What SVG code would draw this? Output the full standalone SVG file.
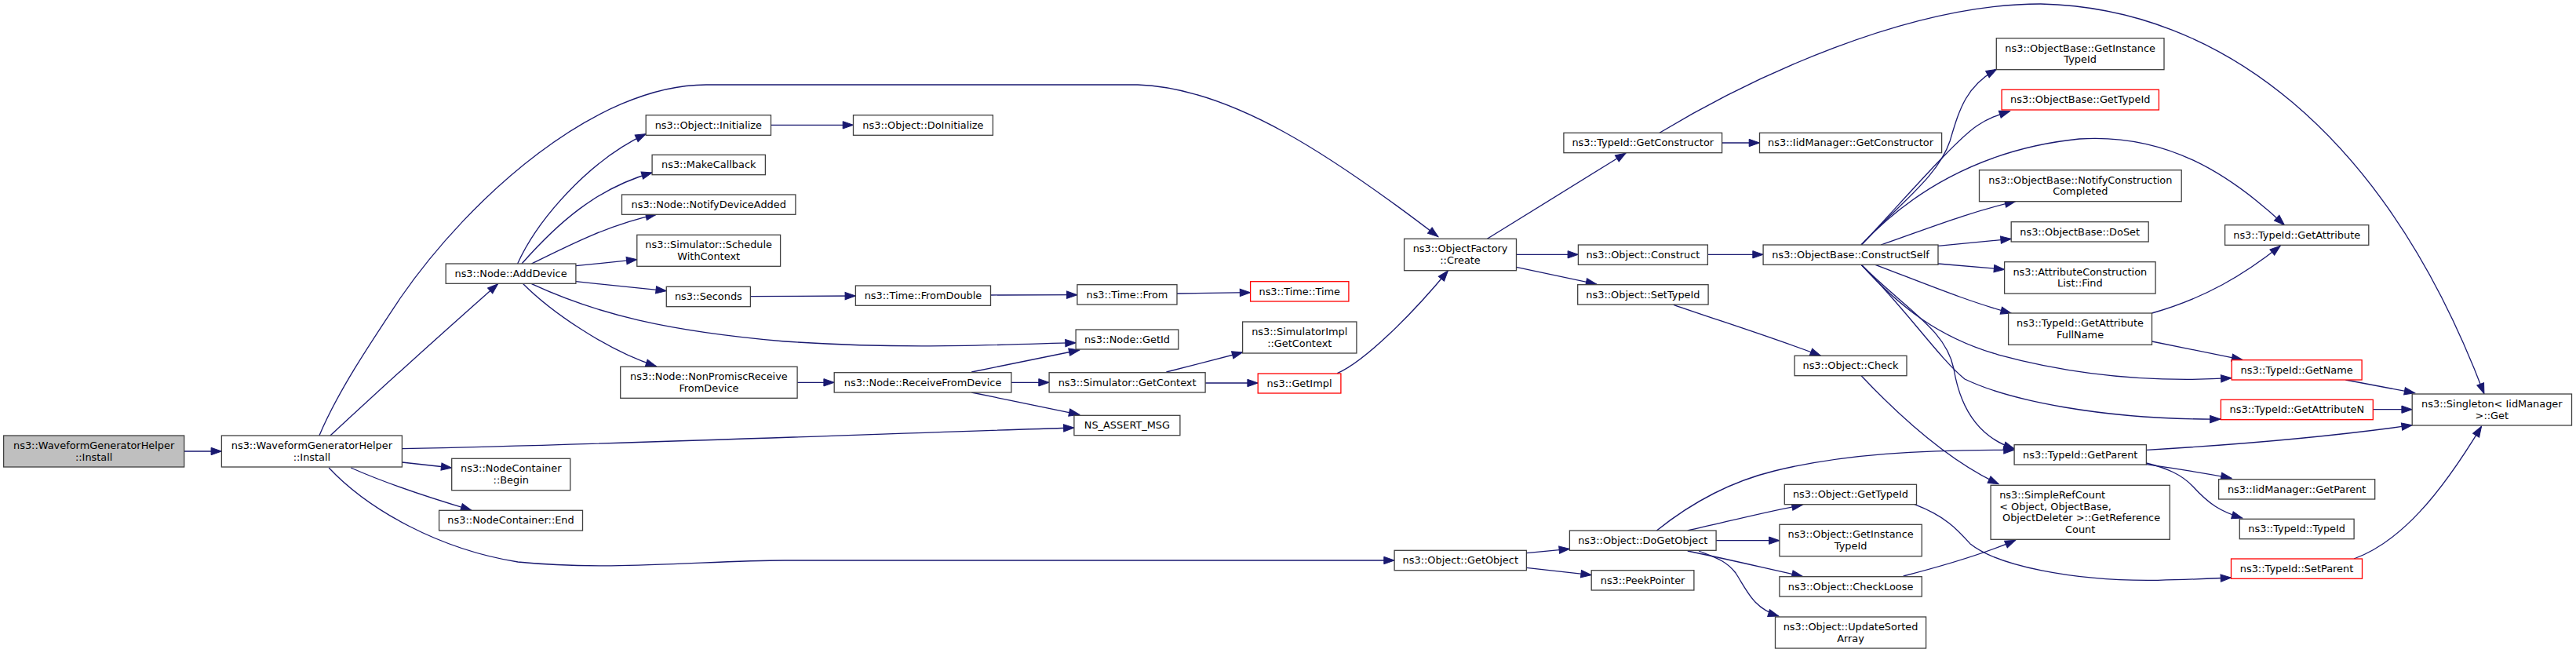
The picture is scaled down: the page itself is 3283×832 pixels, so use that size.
<svg xmlns="http://www.w3.org/2000/svg" width="3283" height="832" viewBox="0 0 3283 832">
<defs>
<style>
.node rect{fill:#ffffff;stroke:#404040;stroke-width:1.3}
.node.red rect{stroke:#ff0000}
.node.root rect{fill:#bfbfbf}
text{font-family:"DejaVu Sans","Liberation Sans",sans-serif;font-size:12.9px;fill:#000000;text-anchor:middle}
text.l{text-anchor:start}
#edges path{fill:none;stroke:#191970;stroke-width:1.3;marker-end:url(#arr)}
</style>
<marker id="arr" markerUnits="userSpaceOnUse" markerWidth="16" markerHeight="12" refX="13.3" refY="4.67" orient="auto" overflow="visible">
<path d="M0,0 L13.3,4.67 L0,9.33 Z" fill="#191970" stroke="#191970" stroke-width="1"/>
</marker>
</defs>
<rect x="0" y="0" width="3283" height="832" fill="#ffffff"/>
<g id="edges">
<path d="M234.7,575 L282.4,575"/>
<path d="M406.9,555 C430,500 470,440 510,380 C600,250 760,108 900,108 L1450,108 C1570,112 1700,200 1832.9,301.7"/>
<path d="M420.9,555 C480,500 580,410 634.6,361.7"/>
<path d="M512.4,571.7 C800,566 1100,553 1368.9,545"/>
<path d="M512.4,589 L575.7,596"/>
<path d="M447.2,596 C490,615 540,632 600.7,650"/>
<path d="M419.1,596 C470,650 560,700 660,716 C780,728 900,714 1000,714 L1777.1,714"/>
<path d="M659.6,336 C685,280 750,205 823.2,170.7"/>
<path d="M665,336 C710,285 760,240 831.1,220"/>
<path d="M677.5,336 C730,310 780,285 836.4,273.3"/>
<path d="M733.9,338.7 L811.8,330.7"/>
<path d="M733.9,358.7 L849.3,370.7"/>
<path d="M677.5,361.7 C760,400 850,422 1000,435 C1150,445 1250,440 1371.1,436.7"/>
<path d="M666.8,361.7 C700,395 770,445 836.4,466.7"/>
<path d="M1016.1,487.3 L1063.2,487.3"/>
<path d="M1238.2,474 L1375.7,446"/>
<path d="M1288.9,487.3 L1337.1,487.3"/>
<path d="M1238.2,500 L1375.7,528.3"/>
<path d="M1486.4,474 L1583.6,449"/>
<path d="M1536.1,488 L1603.2,488"/>
<path d="M1704.3,475.7 C1740,460 1800,400 1845.4,345"/>
<path d="M956.4,377.7 L1090.4,377"/>
<path d="M1262.5,376 L1372.9,375.7"/>
<path d="M1500,374 L1593.6,372.7"/>
<path d="M982.5,159.3 L1087.5,159.3"/>
<path d="M1895.4,304.3 L2072.1,195"/>
<path d="M1932.5,324.3 L2011.4,324.3"/>
<path d="M1932.5,340.3 L2034.6,362"/>
<path d="M2194.6,182 L2242.5,182"/>
<path d="M2115,169.3 C2230,100 2430,5 2600.7,5 C2830,10 3040,170 3165.9,501.7"/>
<path d="M2176.4,324.3 L2247.1,324.3"/>
<path d="M2132.9,388.3 C2180,405 2260,430 2320.4,453.3"/>
<path d="M2372.1,312 C2420,260 2470,225 2485,180 C2497,140 2505,110 2544.6,88.3"/>
<path d="M2372.1,312 C2420,262 2490,180 2520,160 C2535,150 2548,146 2561.4,141.7"/>
<path d="M2372.1,312 C2430,250 2520,190 2650,177 C2760,170 2840,220 2911.4,286.7"/>
<path d="M2397.1,312 C2460,290 2510,270 2568.6,256.7"/>
<path d="M2470,313.3 L2563.2,304.3"/>
<path d="M2470,336 L2554.6,343.3"/>
<path d="M2390,337.3 C2450,360 2510,385 2563.2,399"/>
<path d="M2372.1,337.3 C2420,390 2470,430 2547,452 C2650,480 2750,487 2843.9,481.7"/>
<path d="M2372.1,337.3 C2430,395 2470,455 2504,483 C2560,510 2680,535 2830,534"/>
<path d="M2372.1,337.3 C2430,395 2480,420 2490,470 C2500,530 2530,560 2567.1,571.7"/>
<path d="M2372.1,478.7 C2430,540 2490,590 2547.1,616.7"/>
<path d="M1945.4,704.7 L2000.4,699.3"/>
<path d="M1945.4,723.3 L2028.2,732.7"/>
<path d="M2111.4,676 C2150,645 2200,615 2261.4,600 C2350,578 2450,573 2567.1,573.3"/>
<path d="M2150.7,676 C2200,665 2250,652 2297.1,643.3"/>
<path d="M2187.1,688.7 L2267.9,688.7"/>
<path d="M2150.7,702 C2200,712 2250,724 2297.1,734.3"/>
<path d="M2165,702 C2185,710 2200,714 2212,730 C2228,755 2235,775 2266.8,785"/>
<path d="M2425.7,734 C2480,720 2530,705 2568.6,688.3"/>
<path d="M2440,642.7 C2480,658 2495,675 2511.4,693.3 C2545,720 2640,741 2750,739.3 C2790,738.5 2820,737 2843.5,736"/>
<path d="M2742.5,399 C2810,380 2860,350 2906.2,313.3"/>
<path d="M2742.5,435 L2857.7,458.3"/>
<path d="M2735.4,573.3 C2880,565 2980,555 3074.2,541.7"/>
<path d="M2735.4,591.7 C2780,598 2810,603 2843.9,609.3"/>
<path d="M2735.4,590 C2760,596 2780,604 2795,620 C2815,642 2830,652 2857.7,660"/>
<path d="M2989.3,484 L3077.6,500.7"/>
<path d="M3024.3,521.7 L3074.2,521.7"/>
<path d="M3000,712 C3060,690 3110,630 3162.5,543.3"/>
</g>
<g id="n_root" class="node root"><rect x="4.6" y="555" width="230.1" height="40"/><text x="119.65" y="571.9">ns3::WaveformGeneratorHelper</text><text x="119.65" y="586.5">::Install</text></g>
<g id="n_install" class="node"><rect x="282.4" y="555" width="230" height="40"/><text x="397.4" y="571.9">ns3::WaveformGeneratorHelper</text><text x="397.4" y="586.5">::Install</text></g>
<g id="n_adddevice" class="node"><rect x="568.2" y="336" width="165.7" height="25.3"/><text x="651.05" y="352.85">ns3::Node::AddDevice</text></g>
<g id="n_initialize" class="node"><rect x="823.2" y="146.7" width="159.3" height="25.6"/><text x="902.85" y="163.7">ns3::Object::Initialize</text></g>
<g id="n_makecallback" class="node"><rect x="831.1" y="197.3" width="144.3" height="25.4"/><text x="903.25" y="214.2">ns3::MakeCallback</text></g>
<g id="n_notify" class="node"><rect x="792.5" y="248" width="221.4" height="25.3"/><text x="903.2" y="264.85">ns3::Node::NotifyDeviceAdded</text></g>
<g id="n_schedule" class="node"><rect x="811.8" y="299.3" width="182.8" height="40"/><text x="903.2" y="316.2">ns3::Simulator::Schedule</text><text x="903.2" y="330.8">WithContext</text></g>
<g id="n_seconds" class="node"><rect x="849.3" y="365.3" width="107.1" height="25.4"/><text x="902.85" y="382.2">ns3::Seconds</text></g>
<g id="n_nonpromisc" class="node"><rect x="790.7" y="467.3" width="225.4" height="40"/><text x="903.4" y="484.2">ns3::Node::NonPromiscReceive</text><text x="903.4" y="498.8">FromDevice</text></g>
<g id="n_begin" class="node"><rect x="575.7" y="584.3" width="151.1" height="40.4"/><text x="651.25" y="601.4">ns3::NodeContainer</text><text x="651.25" y="616">::Begin</text></g>
<g id="n_end" class="node"><rect x="559.6" y="650.3" width="182.9" height="25.7"/><text x="651.05" y="667.35">ns3::NodeContainer::End</text></g>
<g id="n_doinit" class="node"><rect x="1087.5" y="146.7" width="177.9" height="25.6"/><text x="1176.45" y="163.7">ns3::Object::DoInitialize</text></g>
<g id="n_fromdouble" class="node"><rect x="1090.4" y="364" width="172.1" height="25.3"/><text x="1176.45" y="380.85">ns3::Time::FromDouble</text></g>
<g id="n_from" class="node"><rect x="1372.9" y="362.7" width="127.1" height="25.3"/><text x="1436.45" y="379.55">ns3::Time::From</text></g>
<g id="n_time" class="node red"><rect x="1593.6" y="358.7" width="125.3" height="25.3"/><text x="1656.25" y="375.55">ns3::Time::Time</text></g>
<g id="n_receive" class="node"><rect x="1063.2" y="474.7" width="225.7" height="25.3"/><text x="1176.05" y="491.55">ns3::Node::ReceiveFromDevice</text></g>
<g id="n_getid" class="node"><rect x="1371.1" y="420" width="130.7" height="25"/><text x="1436.45" y="436.7">ns3::Node::GetId</text></g>
<g id="n_getcontext" class="node"><rect x="1337.1" y="474.7" width="199" height="25.3"/><text x="1436.6" y="491.55">ns3::Simulator::GetContext</text></g>
<g id="n_assert" class="node"><rect x="1368.9" y="529.3" width="135" height="25.4"/><text x="1436.4" y="546.2">NS_ASSERT_MSG</text></g>
<g id="n_simimpl" class="node"><rect x="1583.6" y="410" width="145.3" height="40"/><text x="1656.25" y="426.9">ns3::SimulatorImpl</text><text x="1656.25" y="441.5">::GetContext</text></g>
<g id="n_getimpl" class="node red"><rect x="1603.2" y="476" width="105.7" height="25"/><text x="1656.05" y="492.7">ns3::GetImpl</text></g>
<g id="n_create" class="node"><rect x="1789.6" y="304.3" width="142.9" height="40.4"/><text x="1861.05" y="321.4">ns3::ObjectFactory</text><text x="1861.05" y="336">::Create</text></g>
<g id="n_getconstructor" class="node"><rect x="1992.9" y="169.3" width="201.7" height="25.4"/><text x="2093.75" y="186.2">ns3::TypeId::GetConstructor</text></g>
<g id="n_construct" class="node"><rect x="2011.4" y="312" width="165" height="25.3"/><text x="2093.9" y="328.85">ns3::Object::Construct</text></g>
<g id="n_settypeid" class="node"><rect x="2010.7" y="362.7" width="166.4" height="25.3"/><text x="2093.9" y="379.55">ns3::Object::SetTypeId</text></g>
<g id="n_getobject" class="node"><rect x="1777.1" y="701.3" width="168.3" height="25.4"/><text x="1861.25" y="718.2">ns3::Object::GetObject</text></g>
<g id="n_dogetobject" class="node"><rect x="2000.4" y="676" width="186.7" height="25.3"/><text x="2093.75" y="692.85">ns3::Object::DoGetObject</text></g>
<g id="n_peek" class="node"><rect x="2028.2" y="726.7" width="130.7" height="25.3"/><text x="2093.55" y="743.55">ns3::PeekPointer</text></g>
<g id="n_iidgetconstructor" class="node"><rect x="2242.5" y="169.3" width="232.1" height="25.4"/><text x="2358.55" y="186.2">ns3::IidManager::GetConstructor</text></g>
<g id="n_constructself" class="node"><rect x="2247.1" y="312" width="222.9" height="25.3"/><text x="2358.55" y="328.85">ns3::ObjectBase::ConstructSelf</text></g>
<g id="n_obgetinstance" class="node"><rect x="2544.3" y="48.7" width="213.7" height="40"/><text x="2651.15" y="65.6">ns3::ObjectBase::GetInstance</text><text x="2651.15" y="80.2">TypeId</text></g>
<g id="n_obgettypeid" class="node red"><rect x="2551.1" y="114.3" width="200.3" height="25.7"/><text x="2651.25" y="131.35">ns3::ObjectBase::GetTypeId</text></g>
<g id="n_notifycc" class="node"><rect x="2522.5" y="216.7" width="257.7" height="40"/><text x="2651.35" y="233.6">ns3::ObjectBase::NotifyConstruction</text><text x="2651.35" y="248.2">Completed</text></g>
<g id="n_doset" class="node"><rect x="2563.2" y="282.7" width="175" height="25.3"/><text x="2650.7" y="299.55">ns3::ObjectBase::DoSet</text></g>
<g id="n_find" class="node"><rect x="2554.6" y="333.7" width="192.5" height="40.3"/><text x="2650.85" y="350.75">ns3::AttributeConstruction</text><text x="2650.85" y="365.35">List::Find</text></g>
<g id="n_fullname" class="node"><rect x="2559.6" y="399" width="182.9" height="40.3"/><text x="2651.05" y="416.05">ns3::TypeId::GetAttribute</text><text x="2651.05" y="430.65">FullName</text></g>
<g id="n_check" class="node"><rect x="2287.1" y="453.3" width="142.9" height="25.4"/><text x="2358.55" y="470.2">ns3::Object::Check</text></g>
<g id="n_getparent" class="node"><rect x="2567.1" y="566.7" width="168.3" height="25.3"/><text x="2651.25" y="583.55">ns3::TypeId::GetParent</text></g>
<g id="n_objgettypeid" class="node"><rect x="2274.3" y="617.3" width="168.2" height="25.4"/><text x="2358.4" y="634.2">ns3::Object::GetTypeId</text></g>
<g id="n_simpleref" class="node"><rect x="2537.1" y="618.3" width="228.2" height="69"/><text class="l" x="2548.2" y="635.1">ns3::SimpleRefCount</text><text class="l" x="2548.2" y="649.7">&lt; Object, ObjectBase,</text><text class="l" x="2552" y="664.3">ObjectDeleter &gt;::GetReference</text><text x="2651.2" y="678.9">Count</text></g>
<g id="n_objgetinstance" class="node"><rect x="2267.9" y="668.3" width="181.4" height="40.4"/><text x="2358.6" y="685.4">ns3::Object::GetInstance</text><text x="2358.6" y="700">TypeId</text></g>
<g id="n_checkloose" class="node"><rect x="2267.9" y="734.7" width="181.4" height="25.3"/><text x="2358.6" y="751.55">ns3::Object::CheckLoose</text></g>
<g id="n_updatesorted" class="node"><rect x="2262.5" y="786" width="192.1" height="40"/><text x="2358.55" y="802.9">ns3::Object::UpdateSorted</text><text x="2358.55" y="817.5">Array</text></g>
<g id="n_getattribute" class="node"><rect x="2835.6" y="286.7" width="183.2" height="25.6"/><text x="2927.2" y="303.7">ns3::TypeId::GetAttribute</text></g>
<g id="n_getname" class="node red"><rect x="2844.2" y="458.7" width="165.9" height="25.3"/><text x="2927.15" y="475.55">ns3::TypeId::GetName</text></g>
<g id="n_getattributen" class="node red"><rect x="2830.4" y="509.3" width="193.9" height="25.4"/><text x="2927.35" y="526.2">ns3::TypeId::GetAttributeN</text></g>
<g id="n_singleton" class="node"><rect x="3074.2" y="502" width="203.3" height="40"/><text x="3175.85" y="518.9">ns3::Singleton&lt; IidManager</text><text x="3175.85" y="533.5">&gt;::Get</text></g>
<g id="n_iidgetparent" class="node"><rect x="2827.6" y="610.7" width="199.1" height="25.3"/><text x="2927.15" y="627.55">ns3::IidManager::GetParent</text></g>
<g id="n_typeidtypeid" class="node"><rect x="2854.3" y="661.3" width="145.8" height="25.4"/><text x="2927.2" y="678.2">ns3::TypeId::TypeId</text></g>
<g id="n_setparent" class="node red"><rect x="2843.5" y="712" width="167" height="25.3"/><text x="2927" y="728.85">ns3::TypeId::SetParent</text></g>
</svg>
